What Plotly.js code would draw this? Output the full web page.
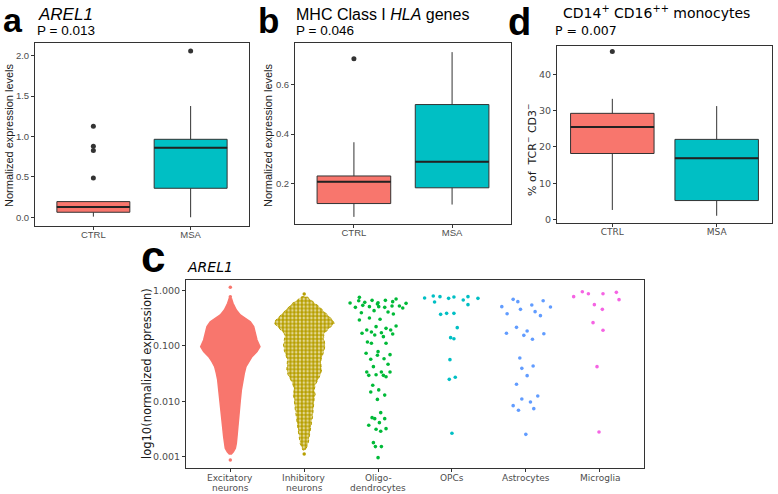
<!DOCTYPE html>
<html><head><meta charset="utf-8">
<script src="https://cdn.plot.ly/plotly-3.0.1.min.js"></script>
<style>html,body{margin:0;padding:0;background:#fff}#chart{width:778px;height:494px}</style>
</head><body><div id="chart"></div>
<script>
// ================= DATA =================
const boxGroups = ['CTRL', 'MSA'];

// panel a : AREL1 normalized expression
const aQ1 = [0.062, 0.359];
const aMedian = [0.128, 0.862];
const aQ3 = [0.194, 0.965];
const aLowerWhisker = [0.008, 0.0];
const aUpperWhisker = [0.194, 1.377];
const aOutlierGroup = ['CTRL', 'CTRL', 'CTRL', 'CTRL', 'MSA'];
const aOutlierValue = [0.487, 0.825, 0.878, 1.126, 2.058];

// panel b : MHC class I HLA genes
const bQ1 = [0.118, 0.182];
const bMedian = [0.207, 0.288];
const bQ3 = [0.230, 0.520];
const bLowerWhisker = [0.064, 0.114];
const bUpperWhisker = [0.367, 0.733];
const bOutlierGroup = ['CTRL'];
const bOutlierValue = [0.706];

// panel d : CD14+ CD16++ monocytes (% of TCR- CD3-)
const dQ1 = [18.2, 5.2];
const dMedian = [25.5, 16.9];
const dQ3 = [29.3, 22.1];
const dLowerWhisker = [2.6, 1.0];
const dUpperWhisker = [33.3, 31.3];
const dOutlierGroup = ['CTRL'];
const dOutlierValue = [46.4];

// panel c : AREL1 per cell type
const cellTypes = ['Excitatory<br>neurons', 'Inhibitory<br>neurons', 'Oligo-<br>dendrocytes', 'OPCs', 'Astrocytes', 'Microglia'];

// dense groups: outline of the swarm (expression level, half width of swarm in category units)
const excLevel = [0.717, 0.582, 0.441, 0.359, 0.312, 0.272, 0.221, 0.168, 0.127, 0.0964, 0.0783, 0.0636, 0.0517, 0.0420, 0.0318, 0.0242, 0.0159, 0.0105, 0.00605, 0.00348, 0.00230, 0.00174, 0.00142, 0.00123, 0.00112];
const excHalfWidth = [0.014, 0.036, 0.081, 0.135, 0.203, 0.271, 0.316, 0.338, 0.361, 0.401, 0.361, 0.293, 0.248, 0.212, 0.189, 0.171, 0.149, 0.135, 0.122, 0.104, 0.090, 0.081, 0.068, 0.041, 0.014];
const excSingle = [1.131, 0.768, 0.000872];

const inhLevel = [0.768, 0.668, 0.582, 0.507, 0.412, 0.335, 0.291, 0.254, 0.221, 0.192, 0.168, 0.146, 0.127, 0.103, 0.0839, 0.0682, 0.0554, 0.0450, 0.0366, 0.0297, 0.0242, 0.0196, 0.0159, 0.0130, 0.0113, 0.00799, 0.00527, 0.00348, 0.00230, 0.00174, 0.00152, 0.00132];
const inhHalfWidth = [0.036, 0.090, 0.158, 0.203, 0.271, 0.338, 0.383, 0.406, 0.361, 0.316, 0.271, 0.262, 0.271, 0.280, 0.271, 0.248, 0.226, 0.226, 0.235, 0.217, 0.180, 0.149, 0.135, 0.149, 0.135, 0.126, 0.113, 0.090, 0.068, 0.054, 0.036, 0.018];
const inhSingle = [0.857, 0.00112];

// sparse groups: each cell (value, horizontal swarm offset)
const oligoValue = [0.746, 0.650, 0.590, 0.607, 0.659, 0.598, 0.566, 0.659, 0.624, 0.697, 0.582, 0.521, 0.493, 0.536, 0.507, 0.507, 0.493, 0.521, 0.480, 0.395, 0.430, 0.406, 0.374, 0.291, 0.317, 0.300, 0.221, 0.192, 0.177, 0.168, 0.206, 0.192, 0.227, 0.156, 0.172, 0.146, 0.163, 0.117, 0.111, 0.111, 0.0783, 0.0731, 0.0673, 0.0691, 0.0570, 0.0585, 0.0463, 0.0420, 0.0337, 0.0293, 0.0301, 0.0337, 0.0293, 0.0277, 0.0337, 0.0194, 0.0160, 0.0147, 0.0129, 0.0108, 0.00622, 0.00506, 0.00485, 0.00485, 0.00411, 0.00368, 0.00312, 0.00320, 0.00287, 0.00179, 0.00152, 0.00152, 0.00096];
const oligoOffset = [-0.253, -0.262, -0.379, -0.180, -0.081, 0, -0.009, 0.099, 0.198, 0.244, 0.379, 0.289, -0.307, -0.207, -0.117, 0.009, 0.090, 0.189, 0.334, -0.226, -0.054, 0.135, 0.207, -0.253, -0.117, 0.027, -0.027, -0.153, -0.090, -0.217, 0.108, 0.171, 0.244, -0.045, 0.045, 0.072, 0.198, -0.144, -0.090, 0.108, 0, -0.162, -0.009, 0.162, -0.099, 0.081, 0.135, -0.063, -0.153, -0.126, -0.027, 0.045, 0.072, 0.108, 0.162, -0.072, 0.009, -0.099, 0.090, -0.009, 0.036, -0.081, -0.045, 0.090, 0.018, -0.126, -0.027, 0.108, 0.036, -0.063, -0.036, 0.045, 0];

const opcValue = [0.727, 0.789, 0.768, 0.615, 0.716, 0.757, 0.668, 0.768, 0.551, 0.716, 0.369, 0.384, 0.384, 0.212, 0.140, 0.134, 0.0562, 0.0270, 0.0248, 0.00264];
const opcOffset = [-0.370, -0.253, -0.162, -0.235, -0.045, 0.027, 0.153, 0.217, 0.217, 0.352, -0.153, -0.072, 0.027, 0.072, -0.018, 0.027, -0.027, 0.045, -0.036, 0];

const astroValue = [0.687, 0.624, 0.507, 0.454, 0.543, 0.650, 0.500, 0.412, 0.379, 0.349, 0.215, 0.185, 0.168, 0.154, 0.165, 0.131, 0.0602, 0.0432, 0.0392, 0.0289, 0.0202, 0.0124, 0.0110, 0.00968, 0.00832, 0.00686, 0.00735, 0.00253];
const astroOffset = [-0.171, -0.108, -0.325, -0.072, 0.081, 0.235, 0.334, 0.126, -0.253, 0.198, -0.126, 0.018, -0.262, -0.027, 0.244, 0.090, -0.081, 0.099, -0.054, 0.018, -0.126, 0.162, -0.054, 0.063, -0.171, -0.099, 0.108, 0];

const microValue = [0.768, 0.945, 0.869, 0.869, 0.919, 0.678, 0.551, 0.454, 0.261, 0.190, 0.0420, 0.00279];
const microOffset = [-0.352, -0.235, -0.153, 0.045, 0.226, 0.262, -0.072, 0.036, -0.090, 0.045, -0.036, -0.009];

// ================= STYLE =================
const W = 778, H = 494;
const RED = '#F8766D', TEAL = '#00BFC4';
const cellColors = ['#F8766D', '#B79F00', '#00BA38', '#00BFC4', '#619CFF', '#F564E3'];
const EDGE = '#333333';
const SANS = 'Liberation Sans, Arial, sans-serif';
const DJ = 'DejaVu Sans, sans-serif';

function px(x) { return x / W; }
function py(y) { return 1 - y / H; }

const traces = [];

function addBoxPanel(xa, ya, q1, med, q3, lo, hi, outG, outV, bw) {
  const fills = [RED, TEAL];
  boxGroups.forEach((g, i) => {
    const pos = i + 1;
    traces.push({
      type: 'box', xaxis: xa, yaxis: ya, x: [pos],
      q1: [q1[i]], median: [med[i]], q3: [q3[i]],
      lowerfence: [lo[i]], upperfence: [hi[i]],
      width: bw, whiskerwidth: 0, boxpoints: false,
      fillcolor: fills[i], line: { color: EDGE, width: 1 },
      showlegend: false, hoverinfo: 'skip'
    });
    traces.push({
      type: 'scatter', mode: 'lines', xaxis: xa, yaxis: ya,
      x: [pos - bw / 2, pos + bw / 2], y: [med[i], med[i]],
      line: { color: '#222', width: 2 }, showlegend: false, hoverinfo: 'skip'
    });
  });
  traces.push({
    type: 'scatter', mode: 'markers', xaxis: xa, yaxis: ya,
    x: outG.map(g => boxGroups.indexOf(g) + 1), y: outV,
    marker: { color: EDGE, size: 5 }, showlegend: false, hoverinfo: 'skip'
  });
}

addBoxPanel('x', 'y', aQ1, aMedian, aQ3, aLowerWhisker, aUpperWhisker, aOutlierGroup, aOutlierValue, 0.75);
addBoxPanel('x2', 'y2', bQ1, bMedian, bQ3, bLowerWhisker, bUpperWhisker, bOutlierGroup, bOutlierValue, 0.75);
addBoxPanel('x3', 'y3', dQ1, dMedian, dQ3, dLowerWhisker, dUpperWhisker, dOutlierGroup, dOutlierValue, 0.8);

// panel c dense groups as swarm outlines
function swarmOutline(center, levels, hw) {
  const xs = [], ys = [];
  levels.forEach((v, i) => { xs.push(center + hw[i]); ys.push(v); });
  for (let i = levels.length - 1; i >= 0; i--) { xs.push(center - hw[i]); ys.push(levels[i]); }
  xs.push(xs[0]); ys.push(ys[0]);
  return { xs, ys };
}
const exc = swarmOutline(1, excLevel, excHalfWidth);
traces.push({
  type: 'scatter', mode: 'lines', xaxis: 'x4', yaxis: 'y4', x: exc.xs, y: exc.ys,
  fill: 'toself', fillcolor: cellColors[0], line: { color: cellColors[0], width: 1.5 },
  showlegend: false, hoverinfo: 'skip'
});
const inh = swarmOutline(2, inhLevel, inhHalfWidth);
traces.push({
  type: 'scatter', mode: 'lines', xaxis: 'x4', yaxis: 'y4', x: inh.xs, y: inh.ys,
  fill: 'toself', fillcolor: 'rgba(0,0,0,0)',
  fillpattern: { shape: '.', fgcolor: cellColors[1], bgcolor: '#f3ecc8', size: 3.8, solidity: 0.7 },
  line: { color: cellColors[1], width: 1, dash: 'dot' },
  showlegend: false, hoverinfo: 'skip'
});
const singles = [[1, excSingle], [2, inhSingle]];
singles.forEach(([c, vals]) => {
  traces.push({
    type: 'scatter', mode: 'markers', xaxis: 'x4', yaxis: 'y4',
    x: vals.map(() => c), y: vals,
    marker: { color: cellColors[c - 1], size: 3.5 }, showlegend: false, hoverinfo: 'skip'
  });
});
const sparse = [[3, oligoValue, oligoOffset], [4, opcValue, opcOffset], [5, astroValue, astroOffset], [6, microValue, microOffset]];
sparse.forEach(([c, vals, offs]) => {
  traces.push({
    type: 'scatter', mode: 'markers', xaxis: 'x4', yaxis: 'y4',
    x: offs.map(o => c + o), y: vals,
    marker: { color: cellColors[c - 1], size: 3.6 }, showlegend: false, hoverinfo: 'skip'
  });
});

// ================= AXES =================
function axisBase(extra) {
  return Object.assign({
    showline: true, mirror: true, linecolor: EDGE, linewidth: 1,
    ticks: 'outside', ticklen: 3, tickcolor: EDGE, tickwidth: 1,
    showgrid: false, zeroline: false, fixedrange: true,
    tickfont: { family: SANS, size: 9.5, color: '#4d4d4d' }
  }, extra);
}

const layout = {
  width: W, height: H,
  margin: { l: 0, r: 0, t: 0, b: 0 },
  paper_bgcolor: '#fff', plot_bgcolor: '#fff',
  showlegend: false,
  xaxis: axisBase({ domain: [px(35), px(249)], range: [0.4, 2.6], tickvals: [1, 2], ticktext: boxGroups, anchor: 'y', ticklabelstandoff: -3 }),
  yaxis: axisBase({ domain: [py(226), py(43)], range: [-0.108, 2.157], tickvals: [0, 0.5, 1, 1.5, 2], ticktext: ['0.0', '0.5', '1.0', '1.5', '2.0'], anchor: 'x' }),
  xaxis2: axisBase({ domain: [px(295), px(511)], range: [0.4, 2.6], tickvals: [1, 2], ticktext: boxGroups, anchor: 'y2', ticklabelstandoff: -3 }),
  yaxis2: axisBase({ domain: [py(224), py(43)], range: [0.035, 0.770], tickvals: [0.2, 0.4, 0.6], ticktext: ['0.2', '0.4', '0.6'], anchor: 'x2' }),
  xaxis3: axisBase({ domain: [px(557), px(772)], range: [0.47, 2.53], tickvals: [1, 2], ticktext: boxGroups, anchor: 'y3', ticklabelstandoff: -3, tickfont: { family: DJ, size: 9, color: '#4d4d4d' } }),
  yaxis3: axisBase({ domain: [py(223), py(46)], range: [-1.0, 47.9], tickvals: [0, 10, 20, 30, 40], anchor: 'x3', tickfont: { family: DJ, size: 9.5, color: '#4d4d4d' } }),
  xaxis4: axisBase({ domain: [px(186), px(644)], range: [0.4, 6.6], tickvals: [1, 2, 3, 4, 5, 6], showticklabels: false, anchor: 'y4' }),
  yaxis4: axisBase({ domain: [py(468), py(280)], type: 'log', range: [-3.204, 0.186], tickvals: [0.001, 0.01, 0.1, 1], ticktext: ['0.001', '0.010', '0.100', '1.000'], anchor: 'x4', tickfont: { family: DJ, size: 9.5, color: '#4d4d4d' } }),
  annotations: []
};

function ann(text, x, y, font, xanchor, extra) {
  layout.annotations.push(Object.assign({
    text, x: px(x), y: py(y), xref: 'paper', yref: 'paper', showarrow: false,
    xanchor: xanchor || 'left', yanchor: 'middle', font
  }, extra || {}));
}
const big = (s) => ({ family: SANS, size: s, color: '#000' });

// panel letters (top letters hang from the top edge)
ann('<b>a</b>', 13, 0, big(34), 'center', { yanchor: 'top', borderpad: 0 });
ann('<b>b</b>', 268, 0, big(35), 'center', { yanchor: 'top', borderpad: 0 });
ann('<b>d</b>', 519, 0, big(38), 'center', { yanchor: 'top', borderpad: 0 });
ann('<b>c</b>', 153, 256, big(44), 'center');

// panel titles
ann('<i>AREL1</i>', 36, 14, { family: SANS, size: 17, color: '#000' });
ann('P = 0.013', 35, 31, { family: SANS, size: 13.5, color: '#000' });
ann('MHC Class I <i>HLA</i> genes', 294, 14, { family: SANS, size: 16, color: '#000' });
ann('P = 0.046', 294, 31, { family: SANS, size: 13.5, color: '#000' });
ann('CD14<sup>+</sup> CD16<sup>++</sup> monocytes', 561, 12, { family: DJ, size: 14, color: '#000' });
ann('P = 0.007', 553, 31, { family: DJ, size: 12.5, color: '#000' });
ann('<i>AREL1</i>', 185, 267, { family: DJ, size: 14, color: '#000' });

// y axis titles
ann('Normalized expression levels', 9, 135, { family: SANS, size: 11, color: '#1a1a1a' }, 'center', { textangle: -90 });
ann('Normalized expression levels', 268, 135, { family: SANS, size: 11, color: '#1a1a1a' }, 'center', { textangle: -90 });
ann('% of  TCR<sup>\u2212</sup> CD3<sup>\u2212</sup>', 531, 150, { family: DJ, size: 11, color: '#1a1a1a' }, 'center', { textangle: -90 });
ann('log10(normalized expression)', 147, 374, { family: DJ, size: 11.5, color: '#1a1a1a' }, 'center', { textangle: -90 });

// panel c category labels (two tight lines like ggplot)
const cX0 = 186, cX1 = 644, cR0 = 0.4, cR1 = 6.6;
cellTypes.forEach((lab, i) => {
  const xpx = cX0 + (i + 1 - cR0) / (cR1 - cR0) * (cX1 - cX0);
  lab.split('<br>').forEach((line, k) => {
    ann(line, xpx, 477.5 + k * 10.5, { family: DJ, size: 9, color: '#4d4d4d' }, 'center', { borderpad: 0 });
  });
});

Plotly.newPlot('chart', traces, layout, { staticPlot: true, displayModeBar: false });
</script>
</body></html>
